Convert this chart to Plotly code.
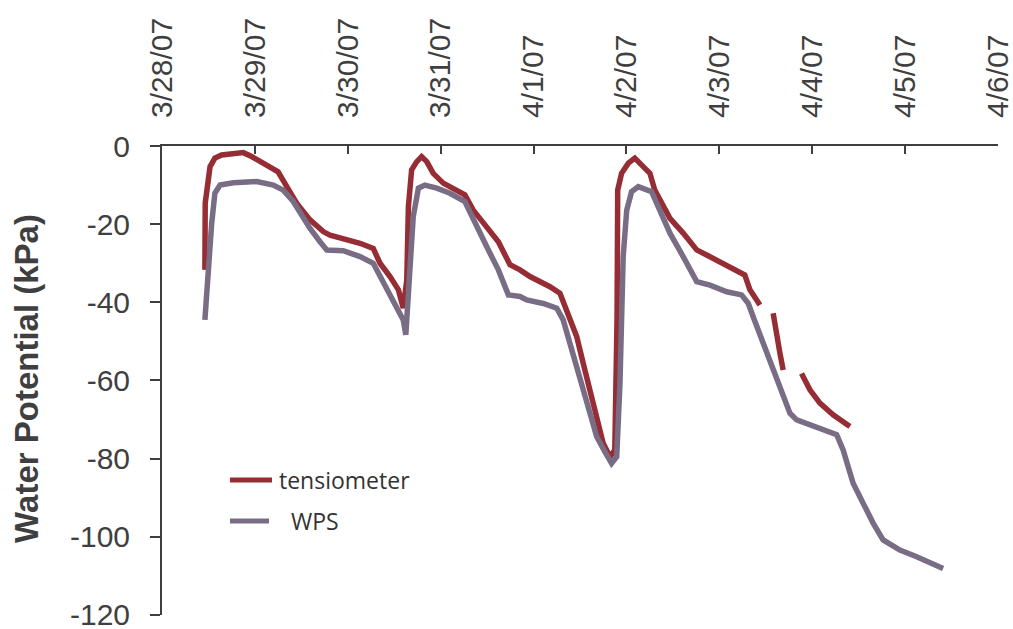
import plotly.graph_objects as go

# Tensiometer readings (kPa); None marks gaps in the record
tens_time = [
    "2007-03-28 11:05", "2007-03-28 11:10", "2007-03-28 12:25", "2007-03-28 13:40",
    "2007-03-28 15:25", "2007-03-28 18:20", "2007-03-28 21:00", "2007-03-28 23:10",
    "2007-03-29 03:05", "2007-03-29 06:00", "2007-03-29 08:15", "2007-03-29 10:50",
    "2007-03-29 14:15", "2007-03-29 17:40", "2007-03-29 19:25", "2007-03-29 22:50",
    "2007-03-30 03:10", "2007-03-30 06:35", "2007-03-30 08:20", "2007-03-30 10:55",
    "2007-03-30 13:05", "2007-03-30 14:20", "2007-03-30 15:15", "2007-03-30 15:40",
    "2007-03-30 16:30", "2007-03-30 17:50", "2007-03-30 19:05", "2007-03-30 20:25",
    "2007-03-30 22:05", "2007-03-31 00:40", "2007-03-31 04:10", "2007-03-31 06:15",
    "2007-03-31 08:25", "2007-03-31 11:55", "2007-03-31 14:55", "2007-03-31 17:55",
    "2007-03-31 20:30", "2007-03-31 23:05", "2007-04-01 04:15", "2007-04-01 06:50",
    "2007-04-01 08:35", "2007-04-01 11:10", "2007-04-01 12:50", "2007-04-01 14:35",
    "2007-04-01 16:20", "2007-04-01 18:00", "2007-04-01 19:45", "2007-04-01 21:00",
    "2007-04-01 21:35", "2007-04-01 21:45", "2007-04-01 22:45", "2007-04-02 00:30",
    "2007-04-02 02:10", "2007-04-02 04:20", "2007-04-02 06:05", "2007-04-02 07:20",
    "2007-04-02 09:05", "2007-04-02 11:15", "2007-04-02 14:40", "2007-04-02 18:10",
    "2007-04-02 20:45", "2007-04-03 00:10", "2007-04-03 03:35", "2007-04-03 06:35",
    "2007-04-03 07:55", "2007-04-03 10:30", "2007-04-03 12:10", "2007-04-03 13:55",
    "2007-04-03 14:50", "2007-04-03 15:40", "2007-04-03 16:30", "2007-04-03 19:00",
    "2007-04-03 21:15", "2007-04-03 23:25", "2007-04-04 02:00", "2007-04-04 05:25",
    "2007-04-04 09:45",
]
tens_kpa = [
    -31.7, -14.6, -5.3, -3.1,
    -2.3, -1.9, -1.7, -2.7,
    -4.9, -6.6, -10.4, -14.7,
    -18.9, -21.9, -22.8, -23.6,
    -24.9, -26.2, -30.0, -33.4,
    -36.8, -41.5, -34.3, -15.5,
    -6.1, -4.0, -2.7, -4.0,
    -7.0, -9.5, -11.3, -12.5,
    -16.4, -20.6, -24.5, -30.4,
    -31.7, -33.4, -36.0, -37.7,
    -42.0, -48.8, -55.6, -62.4,
    -69.3, -76.1, -79.5, -77.8,
    -43.7, -11.3, -7.0, -4.4,
    -3.1, -5.3, -7.0, -11.3,
    -14.7, -18.5, -22.3, -26.6,
    -27.9, -29.6, -31.3, -33.0,
    -36.8, -40.7, None, -42.8,
    -48.8, -53.0, -57.3, None,
    -58.2, -62.4, -65.8, -68.8,
    -71.8,
]

# Water potential sensor (WPS) readings (kPa)
wps_time = [
    "2007-03-28 11:05", "2007-03-28 11:55", "2007-03-28 12:50", "2007-03-28 13:40",
    "2007-03-28 15:00", "2007-03-28 18:25", "2007-03-29 00:30", "2007-03-29 04:45",
    "2007-03-29 07:20", "2007-03-29 09:55", "2007-03-29 11:40", "2007-03-29 14:15",
    "2007-03-29 16:50", "2007-03-29 18:35", "2007-03-29 22:50", "2007-03-30 03:10",
    "2007-03-30 06:35", "2007-03-30 08:20", "2007-03-30 10:55", "2007-03-30 12:40",
    "2007-03-30 14:20", "2007-03-30 15:00", "2007-03-30 16:05", "2007-03-30 16:55",
    "2007-03-30 18:15", "2007-03-30 19:55", "2007-03-30 23:00", "2007-03-31 02:25",
    "2007-03-31 06:15", "2007-03-31 08:25", "2007-03-31 11:55", "2007-03-31 14:55",
    "2007-03-31 17:30", "2007-03-31 20:30", "2007-03-31 22:15", "2007-04-01 02:30",
    "2007-04-01 06:00", "2007-04-01 07:40", "2007-04-01 09:50", "2007-04-01 12:00",
    "2007-04-01 14:10", "2007-04-01 16:20", "2007-04-01 18:25", "2007-04-01 20:10",
    "2007-04-01 21:30", "2007-04-01 22:20", "2007-04-01 23:10", "2007-04-02 00:05",
    "2007-04-02 01:20", "2007-04-02 03:05", "2007-04-02 06:30", "2007-04-02 08:40",
    "2007-04-02 11:15", "2007-04-02 14:40", "2007-04-02 18:10", "2007-04-02 21:35",
    "2007-04-03 01:55", "2007-04-03 05:45", "2007-04-03 07:30", "2007-04-03 08:45",
    "2007-04-03 11:20", "2007-04-03 13:55", "2007-04-03 16:30", "2007-04-03 18:15",
    "2007-04-03 20:00", "2007-04-04 00:15", "2007-04-04 02:00", "2007-04-04 06:20",
    "2007-04-04 08:00", "2007-04-04 10:35", "2007-04-04 13:10", "2007-04-04 15:45",
    "2007-04-04 18:20", "2007-04-04 22:40", "2007-04-05 03:00", "2007-04-05 07:15",
    "2007-04-05 09:50",
]
wps_kpa = [
    -44.5, -31.7, -19.8, -12.1,
    -10.0, -9.4, -9.1, -10.0,
    -11.3, -14.2, -17.2, -21.1,
    -24.5, -26.6, -26.8, -28.3,
    -30.0, -33.4, -37.7, -41.5,
    -44.5, -48.3, -32.6, -18.1,
    -10.8, -10.0, -10.8, -12.1,
    -14.2, -18.9, -25.8, -31.7,
    -38.1, -38.5, -39.4, -40.3,
    -41.5, -44.5, -52.2, -59.0,
    -66.7, -74.4, -78.2, -81.2,
    -79.5, -60.7, -28.3, -16.4,
    -11.7, -10.4, -11.7, -16.4,
    -22.3, -28.3, -34.7, -35.6,
    -37.3, -38.1, -40.3, -43.7,
    -50.5, -56.5, -63.3, -68.4,
    -70.1, -71.8, -72.2, -73.9,
    -77.8, -86.3, -91.4, -96.5,
    -100.8, -103.4, -105.1, -106.8,
    -108.1,
]

y_ticks = [0, -20, -40, -60, -80, -100, -120]
x_ticks = ["2007-03-28", "2007-03-29", "2007-03-30", "2007-03-31", "2007-04-01",
           "2007-04-02", "2007-04-03", "2007-04-04", "2007-04-05", "2007-04-06"]
x_tick_labels = ["3/28/07", "3/29/07", "3/30/07", "3/31/07", "4/1/07",
                 "4/2/07", "4/3/07", "4/4/07", "4/5/07", "4/6/07"]

TENS_COLOR = "#962d35"
WPS_COLOR = "#786d85"
AXIS_COLOR = "#3f3f3f"
TEXT_COLOR = "#3f3f3f"

fig = go.Figure()
fig.add_trace(go.Scatter(
    x=tens_time, y=tens_kpa, mode="lines", name="tensiometer",
    line=dict(color=TENS_COLOR, width=5.5), connectgaps=False,
))
fig.add_trace(go.Scatter(
    x=wps_time, y=wps_kpa, mode="lines", name="WPS",
    line=dict(color=WPS_COLOR, width=5.5),
))

fig.update_layout(
    width=1013, height=629,
    margin=dict(l=162, r=15, t=146, b=14),
    paper_bgcolor="white", plot_bgcolor="white",
    showlegend=False,
    font=dict(family="Liberation Sans, Arial, sans-serif", color=TEXT_COLOR, size=30),
)

fig.update_xaxes(
    type="date", side="top", automargin=False,
    range=["2007-03-28", "2007-04-06 00:01"],
    tickvals=x_ticks, ticktext=x_tick_labels, tickangle=-90,
    ticks="inside", ticklen=8, tickwidth=2, tickcolor=AXIS_COLOR,
    showline=True, linecolor=AXIS_COLOR, linewidth=2,
    showgrid=False, zeroline=False,
    tickfont=dict(size=30, color=TEXT_COLOR),
    ticklabelstandoff=20,
    ticklabeloverflow="allow",
)
fig.update_yaxes(
    range=[-120.02, 0], automargin=False,
    tickvals=y_ticks, ticktext=[str(v) for v in y_ticks],
    ticks="outside", ticklen=10, tickwidth=2, tickcolor=AXIS_COLOR,
    showline=True, linecolor=AXIS_COLOR, linewidth=2,
    showgrid=False, zeroline=False,
    tickfont=dict(size=30, color=TEXT_COLOR),
    ticklabelstandoff=14,
    ticklabeloverflow="allow",
)

# Axis title
fig.add_annotation(
    text="<b>Water Potential (kPa)</b>", textangle=-90,
    xref="paper", yref="paper", x=-0.163, y=0.505,
    xanchor="center", yanchor="middle", showarrow=False,
    font=dict(size=33, color=TEXT_COLOR, family="Liberation Sans, Arial, sans-serif"),
)

# Legend drawn inside the plot area
legend_items = [("tensiometer", TENS_COLOR, 0.2878, 0.1316, 0.1376),
                ("\u00a0\u00a0WPS", WPS_COLOR, 0.2004, 0.128, 0.1376)]
for label, color, ypos, x_end, x_text in legend_items:
    fig.add_shape(type="line", xref="paper", yref="paper",
                  x0=0.0813, x1=x_end, y0=ypos, y1=ypos,
                  line=dict(color=color, width=5))
    fig.add_annotation(text=label, xref="paper", yref="paper",
                       x=x_text, y=ypos, xanchor="left", yanchor="middle",
                       showarrow=False,
                       font=dict(size=23, color="#333333",
                                 family="Open Sans, Liberation Sans, sans-serif"))

fig.write_html("out.html")
